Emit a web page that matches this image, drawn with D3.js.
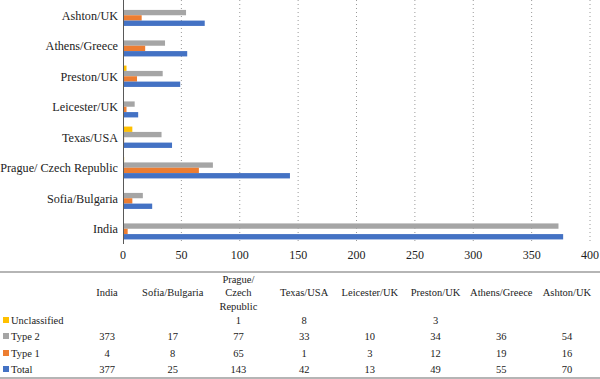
<!DOCTYPE html>
<html><head><meta charset="utf-8">
<script src="https://cdn.jsdelivr.net/npm/d3@7"></script>
<style>body{margin:0;background:#fff}svg{display:block}</style>
</head><body><svg id="c" width="600" height="379"></svg>
<script>
const categories = ["India","Sofia/Bulgaria","Prague/ Czech Republic","Texas/USA","Leicester/UK","Preston/UK","Athens/Greece","Ashton/UK"];
const tableHeaders = [["India"],["Sofia/Bulgaria"],["Prague/","Czech","Republic"],["Texas/USA"],["Leicester/UK"],["Preston/UK"],["Athens/Greece"],["Ashton/UK"]];
const seriesNames = ["Unclassified","Type 2","Type 1","Total"];
const unclassified = [null,null,1,8,null,3,null,null];
const type2 = [373,17,77,33,10,34,36,54];
const type1 = [4,8,65,1,3,12,19,16];
const total = [377,25,143,42,13,49,55,70];
const xTicks = [0,50,100,150,200,250,300,350,400];
const colors = {"Unclassified":"#FFC000","Type 2":"#A5A5A5","Type 1":"#ED7D31","Total":"#4472C4"};
const seriesValues = {"Unclassified":unclassified,"Type 2":type2,"Type 1":type1,"Total":total};

const FONT = "'Liberation Serif'";
const svg = d3.select("#c");
const x = d3.scaleLinear().domain([0,400]).range([123,590]);
const y0 = d3.scaleBand().domain(categories.slice().reverse()).range([0,244]);
const bw = y0.bandwidth();
const gh = bw*0.70;
const y1 = d3.scaleBand().domain(seriesNames).range([(bw-gh)/2,(bw+gh)/2]);

function txt(sel, size){ return sel.style("font-family",FONT).style("font-size",size).style("fill","#222"); }

// grid
svg.append("g").selectAll("line").data(xTicks.filter(d=>d>0)).join("line")
  .attr("x1",d=>x(d)).attr("x2",d=>x(d)).attr("y1",0).attr("y2",244)
  .attr("stroke","#9a9a9a").attr("stroke-width",1).attr("stroke-dasharray","1,3");

// bars
const g = svg.append("g");
categories.forEach((c,i)=>{
  seriesNames.forEach(s=>{
    const v = seriesValues[s][i];
    if(v==null) return;
    g.append("rect").attr("x",x(0)).attr("y",y0(c)+y1(s))
      .attr("width",x(v)-x(0)).attr("height",y1.bandwidth())
      .attr("fill",colors[s]);
  });
});

// y axis line
svg.append("line").attr("x1",123.5).attr("x2",123.5).attr("y1",0).attr("y2",244)
  .attr("stroke","#595959").attr("stroke-width",1);

// y labels
txt(svg.append("g").selectAll("text").data(categories).join("text")
  .attr("x",118).attr("y",d=>y0(d)+bw/2+4.5).attr("text-anchor","end"),"12.2px").text(d=>d);

// x tick labels
txt(svg.append("g").selectAll("text").data(xTicks).join("text")
  .attr("x",d=>x(d)).attr("y",259).attr("text-anchor","middle"),"12px").text(d=>d);

// table
svg.append("line").attr("x1",0).attr("x2",600).attr("y1",272).attr("y2",272).attr("stroke","#6d6d6d").attr("stroke-width",1.2);
svg.append("line").attr("x1",0).attr("x2",600).attr("y1",378).attr("y2",378).attr("stroke","#6d6d6d").attr("stroke-width",1.2);

const colX = d3.scalePoint().domain(categories).range([107,567]);
const tf = "10.5px";
tableHeaders.forEach((lines,i)=>{
  const n = lines.length;
  lines.forEach((t,j)=>{
    txt(svg.append("text").attr("x",colX(categories[i])).attr("y",296 + (j-(n-1)/2)*13.5)
      .attr("text-anchor","middle"),tf).text(t);
  });
});
const rowY = {"Unclassified":324,"Type 2":340,"Type 1":357,"Total":373};
seriesNames.forEach(s=>{
  svg.append("rect").attr("x",3).attr("y",rowY[s]-7).attr("width",6).attr("height",6).attr("fill",colors[s]);
  txt(svg.append("text").attr("x",11).attr("y",rowY[s]),tf).text(s);
  categories.forEach((c,i)=>{
    const v = seriesValues[s][i];
    if(v==null) return;
    txt(svg.append("text").attr("x",colX(c)).attr("y",rowY[s]).attr("text-anchor","middle"),tf).text(v);
  });
});
</script></body></html>
